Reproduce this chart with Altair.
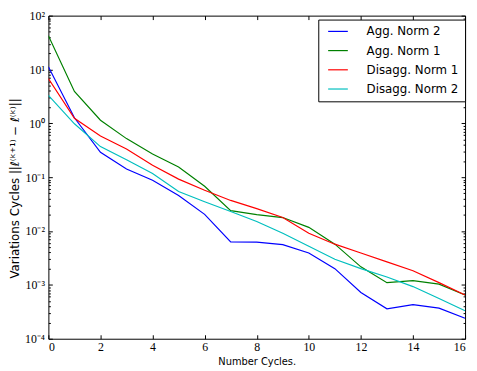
import altair as alt
import pandas as pd

cycles = list(range(17))
series_names = ["Agg. Norm 2", "Agg. Norm 1", "Disagg. Norm 1", "Disagg. Norm 2"]
series_colors = ["#0000ff", "#008000", "#ff0000", "#00bfbf"]

agg_norm2 = [11.2, 1.27, 0.29, 0.142, 0.088, 0.0457, 0.0204, 0.0063, 0.0062, 0.0056,
             0.0039, 0.0020, 0.00072, 0.00036, 0.00043, 0.00037, 0.00024]
agg_norm1 = [42.5, 3.9, 1.14, 0.52, 0.27, 0.155, 0.068, 0.0239, 0.0202, 0.0178,
             0.0117, 0.0057, 0.00216, 0.0011, 0.0012, 0.00103, 0.00065]
disagg_norm1 = [6.8, 1.24, 0.58, 0.335, 0.166, 0.092, 0.057, 0.037, 0.026, 0.0178,
                0.0091, 0.0057, 0.0039, 0.00267, 0.00183, 0.0011, 0.00065]
disagg_norm2 = [3.3, 0.98, 0.37, 0.21, 0.117, 0.054, 0.035, 0.023, 0.015, 0.0091,
                0.0052, 0.0030, 0.0020, 0.0014, 0.00093, 0.00056, 0.00033]

x_ticks = [0, 2, 4, 6, 8, 10, 12, 14, 16]
y_major = [1e-4, 1e-3, 1e-2, 1e-1, 1e0, 1e1, 1e2]
y_minor = [k * 10.0 ** e for e in range(-4, 2) for k in range(2, 10)]

rows = []
for name, vals in zip(series_names, [agg_norm2, agg_norm1, disagg_norm1, disagg_norm2]):
    for c, v in zip(cycles, vals):
        rows.append({"cycle": c, "value": v, "series": name})
df = pd.DataFrame(rows)

xs = alt.Scale(domain=[0, 16], nice=False, zero=False)
ys = alt.Scale(type="log", domain=[1e-4, 100], nice=False)

label_expr = ("'10' + (datum.value < 1 ? '\u207b' : '') + "
              "['\u2070','\u00b9','\u00b2','\u00b3','\u2074'][abs(round(log(datum.value)/LN10))]")

base = alt.Chart(df)

lines = base.mark_line(strokeWidth=1.2, clip=True).encode(
    x=alt.X("cycle:Q", scale=xs, axis=alt.Axis(
        orient="bottom", values=x_ticks, ticks=False, tickSize=0, domain=False, grid=False,
        labelFont="Liberation Serif", labelFontSize=12, labelColor="black", labelPadding=3,
        title="Number Cycles.", titleFont="DejaVu Sans", titleFontSize=10, titleFontWeight="normal",
        titleColor="black", titleY=23, titleBaseline="middle")),
    y=alt.Y("value:Q", scale=ys, axis=alt.Axis(
        orient="left", values=y_major, ticks=False, tickSize=0, domain=False, grid=False,
        labelExpr=label_expr, labelFont="Liberation Serif", labelFontSize=12, labelColor="black",
        labelPadding=4,
        title="Variations Cycles ||\u2113\u207d\u1d4f\u207a\u00b9\u207e \u2212 \u2113\u207d\u1d4f\u207e||",
        titleFont="DejaVu Sans", titleFontSize=12, titleFontWeight="normal", titleColor="black",
        titleX=-34.5, titleY=175, titleBaseline="middle", titleAlign="center")),
    color=alt.Color("series:N", scale=alt.Scale(domain=series_names, range=series_colors),
                    legend=alt.Legend(
                        title=None, orient="none", legendX=274, legendY=4,
                        symbolType="M-2,0H2", symbolSize=100, symbolStrokeWidth=1.2,
                        symbolOffset=8, labelOffset=23,
                        labelFont="DejaVu Sans", labelFontSize=12, labelColor="black",
                        padding=6, rowPadding=7.5, strokeColor="black", fillColor="white",
                        cornerRadius=0)),
)


def tick_layer(channel, orient, values, size):
    ghost = base.mark_line(opacity=0)
    common = dict(orient=orient, values=values, ticks=True, tickSize=size, offset=-size,
                  tickColor="black", tickWidth=1, labels=False, domain=False, grid=False, title=None)
    if channel == "x":
        return ghost.encode(
            x=alt.X("cycle:Q", scale=xs, axis=alt.Axis(**common)),
            y=alt.Y("value:Q", scale=ys, axis=None),
        )
    return ghost.encode(
        x=alt.X("cycle:Q", scale=xs, axis=None),
        y=alt.Y("value:Q", scale=ys, axis=alt.Axis(**common)),
    )


layers = [
    lines,
    tick_layer("x", "bottom", x_ticks, 4),
    tick_layer("x", "top", x_ticks, 4),
    tick_layer("y", "left", y_major, 4),
    tick_layer("y", "left", y_minor, 2),
    tick_layer("y", "right", y_major, 4),
    tick_layer("y", "right", y_minor, 2),
]

chart = alt.layer(*layers).resolve_axis(x="independent", y="independent").properties(
    width=423, height=328,
    autosize=alt.AutoSizeParams(type="none"),
    padding={"left": 41, "top": 5, "right": 4, "bottom": 29},
    background="white",
).configure_view(stroke="black", strokeWidth=1)

chart.save("out.html", embed_options={"renderer": "svg", "actions": False})
